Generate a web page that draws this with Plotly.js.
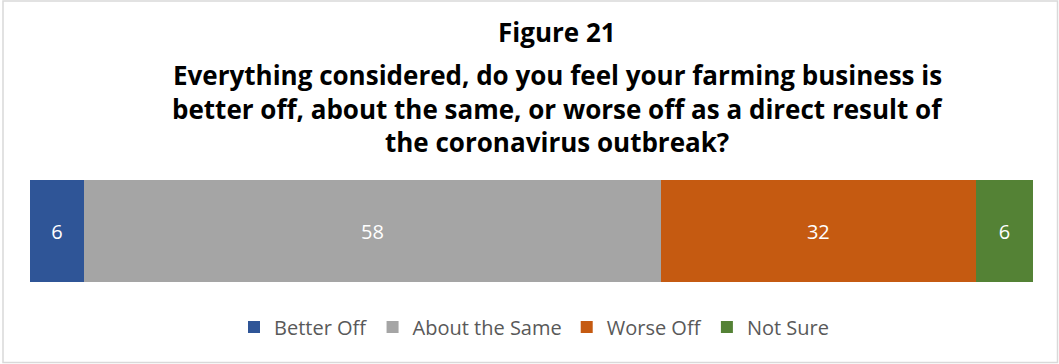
<!DOCTYPE html>
<html><head><meta charset="utf-8">
<script src="https://cdn.plot.ly/plotly-3.0.1.min.js"></script>
<style>html,body{margin:0;padding:0;background:#fff}#chart{width:1059px;height:364px}</style>
</head><body><div id="chart"></div>
<script>
// ---- data ----
const categories = ["Coronavirus impact"];
const seriesNames = ["Better Off", "About the Same", "Worse Off", "Not Sure"];
const barValues = [5.4, 57.5, 31.4, 5.7];      // bar lengths as drawn (percent)
const barLabels = ["6", "58", "32", "6"];       // rounded labels shown on bars
const seriesColors = ["#2F5597", "#A5A5A5", "#C55A11", "#548235"];
const titleLines = [
  "Figure 21",
  "Everything considered, do you feel your farming business is",
  "better off, about the same, or worse off as a direct result of",
  "the coronavirus outbreak?"
];

// ---- geometry helpers (plot area spans 180..282 px vertically) ----
const W = 1059, H = 364;
const M = {l: 30, r: 26, t: 180, b: 82};
const plotH = H - M.t - M.b, plotW = W - M.l - M.r;
const py = p => (H - M.b - p) / plotH;   // pixel y -> paper y
const px = p => (p - M.l) / plotW;       // pixel x -> paper x

const FONT = "'Open Sans', Lato, sans-serif";
const traces = seriesNames.map((name, i) => ({
  type: "bar", orientation: "h", name: name,
  y: categories, x: [barValues[i]],
  marker: {color: seriesColors[i], line: {width: 0}},
  text: [barLabels[i]], texttemplate: "%{text}", textposition: "inside", insidetextanchor: "middle",
  textfont: {family: FONT, size: 20, color: "#ffffff"},
  hoverinfo: "skip"
}));

const titleCenters = [32, 75, 109, 142];
const annotations = titleLines.map((t, i) => ({
  text: "<b>" + t + "</b>", xref: "paper", yref: "paper",
  x: px(557), y: py(titleCenters[i]), xanchor: "center", yanchor: "middle",
  showarrow: false, font: {family: FONT, size: 26, color: "#000000"}
}));

const layout = {
  width: W, height: H,
  margin: M,
  paper_bgcolor: "#ffffff", plot_bgcolor: "#ffffff",
  barmode: "stack", bargap: 0,
  showlegend: true,
  xaxis: {range: [0, 100], visible: false, fixedrange: true},
  yaxis: {range: [-0.5, 0.5], visible: false, fixedrange: true},
  legend: {orientation: "h", x: px(534), xanchor: "center", y: py(327), yanchor: "middle",
           font: {family: FONT, size: 20, color: "#595959"}, traceorder: "normal"},
  annotations: annotations,
  shapes: [{type: "rect", xref: "paper", yref: "paper",
            x0: px(3), x1: px(1057.5), y0: py(362.5), y1: py(1),
            line: {color: "#D9D9D9", width: 1.5}, fillcolor: "rgba(0,0,0,0)"}]
};
Plotly.newPlot("chart", traces, layout, {displayModeBar: false, staticPlot: true});
</script></body></html>
